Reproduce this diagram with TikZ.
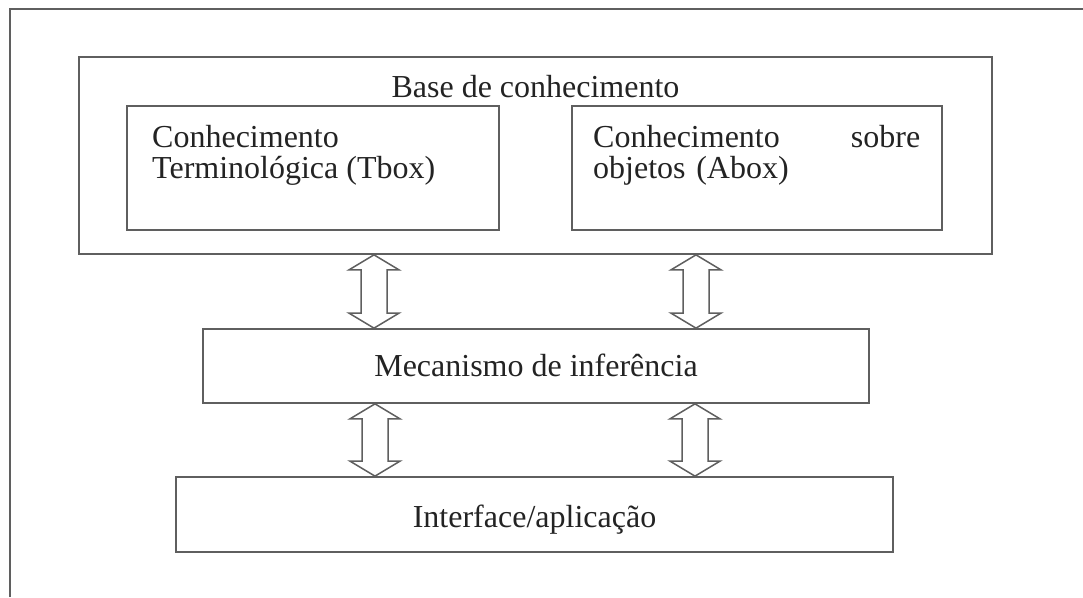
\documentclass[tikz,border=0pt]{standalone}
\usepackage{fontspec}
\setmainfont{Liberation Serif}
\usetikzlibrary{calc,positioning}
\definecolor{linegray}{RGB}{95,95,95}
\definecolor{inkgray}{RGB}{35,35,35}

\begin{document}
\begin{tikzpicture}[x=1pt,y=-1pt,
    box/.style={rectangle,draw=linegray,line width=1.7pt,inner sep=0pt},
    txt/.style={inner sep=0pt,text=inkgray,font=\fontsize{32}{31}\selectfont},
    hollow/.style={draw=linegray,line width=1.5pt,fill=white,line join=miter}]

        \useasboundingbox (0,0) rectangle (1083,597);

        % outer frame (cut off at right and bottom)
        \coordinate (fbl) at (10,597);
        \coordinate (ftl) at (10,9);
        \coordinate (ftr) at (1083,9);
        \draw[linegray,line width=1.7pt] (fbl) -- (ftl) -- (ftr);

        \node[box,minimum width=913,minimum height=197] (base) at (535.5,155.5) {};
        \node[txt,anchor=base] (basetxt) at (535.5,97) {Base de conhecimento};

        \node[box,minimum width=372,minimum height=124] (tbox) at (313,168) {};
        \node[txt,anchor=north west,align=left] (tboxtxt) at (152,125)
            {Conhecimento\\Terminológica (Tbox)};

        \node[box,minimum width=370,minimum height=124] (abox) at (757,168) {};
        \node[txt,anchor=north west,text width=327,align=left] (aboxtxt) at (593,125)
            {Conhecimento \hfill sobre\\objetos (Abox)};

        \node[box,minimum width=666,minimum height=74] (mec) at (536,366) {};
        \node[txt,anchor=base] (mectxt) at (536,376) {Mecanismo de inferência};

        \node[box,minimum width=717,minimum height=75] (intf) at (534.5,514.5) {};
        \node[txt,anchor=base] (intftxt) at (534.5,527) {Interface/aplicação};

        % double block arrows
        \foreach \ax/\up/\dn in {374/base/mec, 696/base/mec, 375/mec/intf, 695/mec/intf}{
            \coordinate (t) at (\ax,0 |- \up.south);
            \coordinate (b) at (\ax,0 |- \dn.north);
            \draw[hollow] (t) -- ++(25,15) -- ++(-12,0) -- ($(b)+(13,-15)$)
                -- ++(12,0) -- (b) -- ++(-25,-15) -- ++(12,0)
                -- ($(t)+(-13,15)$) -- ++(-12,0) -- cycle;
        }
\end{tikzpicture}
\end{document}
